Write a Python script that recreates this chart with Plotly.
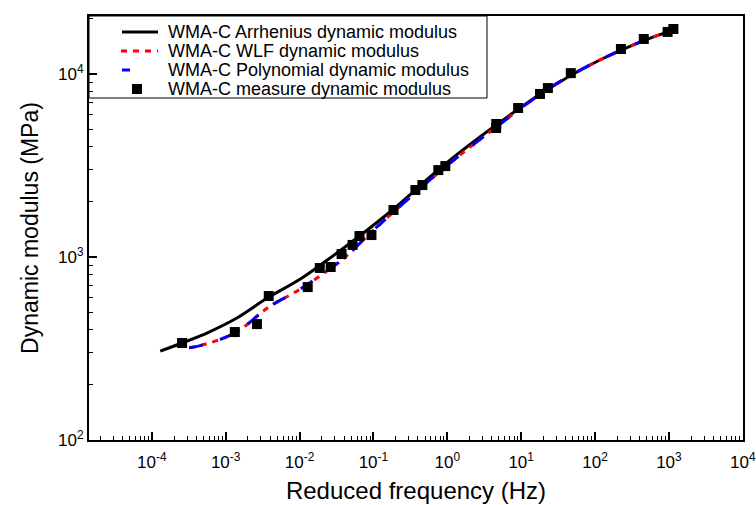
import plotly.graph_objects as go

# Arrhenius model curve (black)
arr_freq = [1.3e-4, 2.57e-4, 5.96e-4, 1.34e-3, 3.84e-3, 9.75e-3, 0.0248, 0.0649, 0.187, 0.94, 4.58, 23.1, 109, 516, 1156]
arr_mod = [306, 339, 389, 458, 604, 748, 975, 1302, 1830, 3223, 5260, 8280, 11780, 15530, 17380]

# WLF model curve (red)
wlf_freq = [3.2e-4, 4.4e-4, 1.34e-3, 3.84e-3, 9.75e-3, 0.0372, 0.0942, 0.187, 0.94, 4.58, 23.1, 109, 516, 1156]
wlf_mod = [319, 327, 385, 533, 661, 963, 1371, 1762, 3102, 5130, 8280, 11780, 15530, 17380]

# Polynomial model curve (blue)
poly_freq = [3.2e-4, 4.4e-4, 1.34e-3, 3.84e-3, 9.75e-3, 0.0372, 0.0942, 0.187, 0.94, 4.58, 23.1, 109, 516, 1156]
poly_mod = [319, 327, 385, 533, 661, 963, 1371, 1762, 3102, 5130, 8280, 11780, 15530, 17380]

# Measured dynamic modulus (squares)
meas_freq = [2.57e-4, 1.33e-3, 2.65e-3, 3.83e-3, 0.0129, 0.0188, 0.0264, 0.0371, 0.0522, 0.0648,
             0.0941, 0.187, 0.370, 0.460, 0.756, 0.94, 4.58, 4.6, 9.1, 18.0, 23.0, 47, 224, 457, 960, 1150]
meas_mod = [339, 389, 430, 612, 685, 871, 882, 1038, 1164, 1303,
            1318, 1806, 2323, 2473, 2985, 3139, 5070, 5330, 6520, 7780, 8380, 10110, 13700, 15540, 16980, 17620]

series_names = ["WMA-C Arrhenius dynamic modulus", "WMA-C WLF dynamic modulus",
                "WMA-C Polynomial dynamic modulus", "WMA-C measure dynamic modulus"]

x_tick_vals = [1e-4, 1e-3, 1e-2, 1e-1, 1e0, 1e1, 1e2, 1e3, 1e4]
x_tick_text = ["10<sup>-4</sup>", "10<sup>-3</sup>", "10<sup>-2</sup>", "10<sup>-1</sup>", "10<sup>0</sup>",
               "10<sup>1</sup>", "10<sup>2</sup>", "10<sup>3</sup>", "10<sup>4</sup>"]
y_tick_vals = [1e2, 1e3, 1e4]
y_tick_text = ["10<sup>2</sup>", "10<sup>3</sup>", "10<sup>4</sup>"]

FONT = "Liberation Sans, Arial, sans-serif"
W, H = 756, 505
ML, MR, MT, MB = 89, 13, 16, 65
PW, PH = W - ML - MR, H - MT - MB


def px(x):
    return (x - ML) / PW


def py(y):
    return (MT + PH - y) / PH


RED_DASH = "6px,6px"
BLUE_DASH = "14px,18px"

fig = go.Figure()
fig.add_trace(go.Scatter(x=arr_freq, y=arr_mod, mode="lines", name=series_names[0],
                         line=dict(color="black", width=3), line_shape="spline"))
fig.add_trace(go.Scatter(x=wlf_freq, y=wlf_mod, mode="lines", name=series_names[1],
                         line=dict(color="#ff0000", width=3, dash=RED_DASH), line_shape="spline"))
fig.add_trace(go.Scatter(x=poly_freq, y=poly_mod, mode="lines", name=series_names[2],
                         line=dict(color="#0000ff", width=3, dash=BLUE_DASH), line_shape="spline"))
fig.add_trace(go.Scatter(x=meas_freq, y=meas_mod, mode="markers", name=series_names[3],
                         marker=dict(symbol="square", size=10, color="black")))

x_minor = [m * 10.0 ** e for e in range(-5, 4) for m in range(2, 10)]
y_minor = [m * 10.0 ** e for e in range(2, 5) for m in range(2, 10)]

# manual legend box (matches reference placement)
shapes = [dict(type="rect", xref="paper", yref="paper", x0=px(89), x1=px(487), y0=py(98), y1=py(16),
               line=dict(color="black", width=1), fillcolor="white", layer="below")]
rows = [32, 51, 70, 89]
shapes.append(dict(type="line", xref="paper", yref="paper", x0=px(122), x1=px(158), y0=py(rows[0]), y1=py(rows[0]),
                   line=dict(color="black", width=3)))
shapes.append(dict(type="line", xref="paper", yref="paper", x0=px(121), x1=px(158), y0=py(rows[1]), y1=py(rows[1]),
                   line=dict(color="#ff0000", width=3, dash=RED_DASH)))
shapes.append(dict(type="line", xref="paper", yref="paper", x0=px(122), x1=px(130), y0=py(rows[2]), y1=py(rows[2]),
                   line=dict(color="#0000ff", width=3)))
shapes.append(dict(type="rect", xref="paper", yref="paper", x0=px(132), x1=px(142), y0=py(rows[3] + 5), y1=py(rows[3] - 5),
                   line=dict(color="black", width=0), fillcolor="black"))

annotations = []
for name, r in zip(series_names, rows):
    annotations.append(dict(xref="paper", yref="paper", x=px(166), y=py(r), text=name, showarrow=False,
                            xanchor="left", yanchor="middle", font=dict(size=18, family=FONT, color="black")))

fig.update_layout(
    width=W, height=H,
    margin=dict(l=ML, r=MR, t=MT, b=MB),
    plot_bgcolor="white", paper_bgcolor="white",
    font=dict(family=FONT, color="black", size=17),
    showlegend=False,
    shapes=shapes,
    annotations=annotations,
    xaxis=dict(type="log", range=[-4.85, 4.003], showgrid=False, zeroline=False, automargin=False,
               showline=True, linecolor="black", linewidth=2, mirror=True,
               ticks="inside", ticklen=8, tickwidth=1.5, tickcolor="black",
               tickvals=x_tick_vals, ticktext=x_tick_text, tickfont=dict(size=17),
               ticklabelstandoff=6,
               minor=dict(ticks="inside", ticklen=4, tickwidth=1, tickcolor="black", tickvals=x_minor),
               title=dict(text="Reduced frequency (Hz)", font=dict(size=24), standoff=11)),
    yaxis=dict(type="log", range=[2, 4.317], showgrid=False, zeroline=False, automargin=False,
               showline=True, linecolor="black", linewidth=2, mirror=True,
               ticks="inside", ticklen=8, tickwidth=1.5, tickcolor="black",
               tickvals=y_tick_vals, ticktext=y_tick_text, tickfont=dict(size=17),
               minor=dict(ticks="inside", ticklen=4, tickwidth=1, tickcolor="black", tickvals=y_minor),
               title=dict(text="Dynamic modulus (MPa)", font=dict(size=23), standoff=13)),
)

fig.write_html("out.html")
